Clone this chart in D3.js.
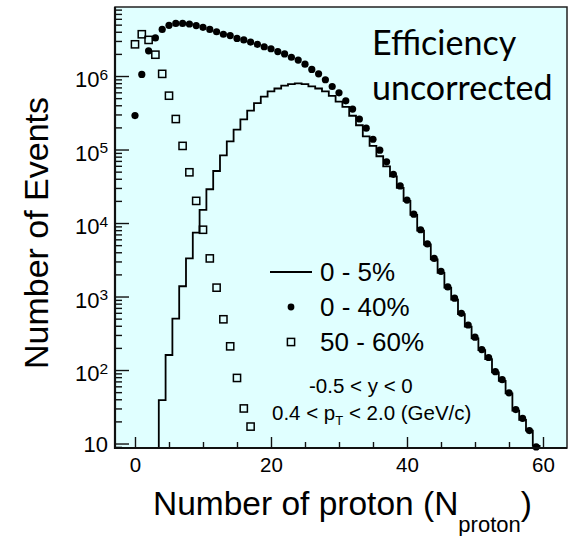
<!DOCTYPE html>
<html>
<head>
<meta charset="utf-8">
<script src="https://cdn.jsdelivr.net/npm/d3@7"></script>
<style>
  body { margin: 0; background: #fff; }
  svg text { font-family: "Liberation Sans", Arial, Helvetica, sans-serif; fill: #000; }
</style>
</head>
<body>
<svg id="chart" width="570" height="536"></svg>
<script>
// 0 - 5% centrality, histogram (bins centred on integer N)
const hist05N = [4, 5, 6, 7, 8, 9, 10, 11, 12, 13, 14, 15, 16, 17, 18, 19, 20, 21, 22, 23, 24, 25, 26, 27, 28, 29, 30, 31,
    32, 33, 34, 35, 36, 37, 38, 39, 40, 41, 42, 43, 44, 45, 46, 47, 48, 49, 50, 51, 52, 53, 54, 55, 56, 57, 58, 59];
const hist05Counts = [39, 160, 500, 1380, 3300, 7400, 15100, 28800, 51000, 83000, 129000, 186000, 257000, 339000,
    427000, 525000, 617000, 676000, 741000, 776000, 794000, 776000, 724000, 676000, 617000, 537000, 447000, 380000,
    288000, 214000, 151000, 112000, 81000, 59000, 43000, 30000, 20000, 12900, 7900, 5100, 3200, 2100, 1320, 910,
    575, 390, 270, 186, 141, 93, 71, 48, 28, 21, 15, 9.3];

// 0 - 40% centrality, filled circles
const dots040N = [0, 1, 2, 3, 4, 5, 6, 7, 8, 9, 10, 11, 12, 13, 14, 15, 16, 17, 18, 19, 20, 21, 22, 23, 24, 25, 26, 27, 28, 29,
    30, 31, 32, 33, 34, 35, 36, 37, 38, 39, 40, 41, 42, 43, 44, 45, 46, 47, 48, 49, 50, 51, 52, 53, 54, 55, 56, 57, 58, 59];
const dots040Counts = [290000, 1050000, 2200000, 3300000, 4300000, 4900000, 5200000, 5200000, 5100000, 4850000,
    4600000, 4300000, 4000000, 3700000, 3550000, 3250000, 3100000, 2900000, 2700000, 2500000, 2350000, 2150000,
    2000000, 1800000, 1650000, 1450000, 1230000, 1070000, 890000, 720000, 590000, 460000, 355000, 260000, 195000,
    138000, 98000, 68000, 46000, 32000, 20500, 13200, 8100, 5200, 3300, 2200, 1350, 950, 590, 410, 280, 190, 148,
    95, 74, 49, 29, 22, 15, 9];

// 50 - 60% centrality, open squares
const sq5060N = [0, 1, 2, 3, 4, 5, 6, 7, 8, 9, 10, 11, 12, 13, 14, 15, 16, 17];
const sq5060Counts = [2700000, 3700000, 3100000, 1950000, 1070000, 540000, 260000, 112000, 49000, 20000, 8100,
    3300, 1320, 490, 210, 78, 30, 17];

const xTickValues = [0, 20, 40, 60];
const yTickExponents = [1, 2, 3, 4, 5, 6];
const legendLabels = ["0 - 5%", "0 - 40%", "50 - 60%"];

const margin = { top: 7, right: 3, bottom: 88, left: 115 },
      width = 570 - margin.left - margin.right,
      height = 536 - margin.top - margin.bottom;

const svg = d3.select("#chart");
const g = svg.append("g")
    .attr("transform", `translate(${margin.left},${margin.top})`);

const x = d3.scaleLinear().domain([-2.94, 63.53]).range([0, width]);
const y = d3.scaleLog().domain([8.69, 8.69e6]).range([height, 0]);

// frame background
g.append("rect")
    .attr("width", width)
    .attr("height", height)
    .attr("fill", "#e0ffff");

g.append("clipPath").attr("id", "frameClip")
    .append("rect").attr("width", width).attr("height", height);

// y ticks (major + log minor), inside the frame
const yMinor = [];
yTickExponents.concat([0]).forEach(e => {
    [2, 3, 4, 5, 6, 7, 8, 9].forEach(m => {
        const v = m * Math.pow(10, e);
        if (v > y.domain()[0] && v < y.domain()[1]) yMinor.push(v);
    });
});

g.append("g").attr("class", "y minor")
    .call(d3.axisLeft(y).tickValues(yMinor).tickSize(-7).tickFormat(""));
g.append("g").attr("class", "y major")
    .call(d3.axisLeft(y).tickValues(yTickExponents.map(e => Math.pow(10, e))).tickSize(-14).tickFormat(""));

// y labels with superscript exponents
yTickExponents.forEach(e => {
    const t = g.append("text")
        .attr("x", -7)
        .attr("text-anchor", "end")
        .style("font-size", "22px");
    if (e === 1) {
        t.attr("y", y(10) + 8).text("10");
    } else {
        t.attr("y", y(Math.pow(10, e)) + 11);
        t.append("tspan").text("10");
        t.append("tspan").attr("dy", -7.5).style("font-size", "15.5px").text(e);
    }
});

// x ticks
g.append("g").attr("class", "x minor")
    .attr("transform", `translate(0,${height})`)
    .call(d3.axisBottom(x).tickValues([5, 10, 15, 25, 30, 35, 45, 50, 55]).tickSize(-6).tickFormat(""));
const xAxis = g.append("g").attr("class", "x major")
    .attr("transform", `translate(0,${height})`)
    .call(d3.axisBottom(x).tickValues(xTickValues).tickSize(-11).tickPadding(9));
xAxis.selectAll("text").style("font-size", "20.5px").attr("fill", "#000");

g.selectAll(".domain").remove();
g.selectAll(".tick line").attr("stroke", "#111").attr("stroke-width", 1.4);

// 0 - 5% histogram as a step line
const histPts = [{ x: hist05N[0] - 0.5, v: y.domain()[0] }];
hist05N.forEach((n, i) => {
    histPts.push({ x: n - 0.5, v: hist05Counts[i] });
    histPts.push({ x: n + 0.5, v: hist05Counts[i] });
});
histPts.push({ x: hist05N[hist05N.length - 1] + 0.5, v: y.domain()[0] });

const line = d3.line()
    .x(d => x(d.x))
    .y(d => y(d.v));

g.append("path")
    .datum(histPts)
    .attr("clip-path", "url(#frameClip)")
    .attr("d", line)
    .attr("fill", "none")
    .attr("stroke", "#000")
    .attr("stroke-width", 1.8);

// 50 - 60% open squares
g.selectAll(".sq")
    .data(sq5060N)
    .enter().append("rect")
    .attr("class", "sq")
    .attr("x", (d, i) => x(d) - 3.6)
    .attr("y", (d, i) => y(sq5060Counts[i]) - 3.6)
    .attr("width", 7.2)
    .attr("height", 7.2)
    .attr("fill", "none")
    .attr("stroke", "#000")
    .attr("stroke-width", 1.5);

// 0 - 40% filled circles
g.selectAll(".dot")
    .data(dots040N)
    .enter().append("circle")
    .attr("class", "dot")
    .attr("cx", d => x(d))
    .attr("cy", (d, i) => y(dots040Counts[i]))
    .attr("r", 3.6)
    .attr("fill", "#000");

// frame border
g.append("rect")
    .attr("width", width)
    .attr("height", height)
    .attr("fill", "none")
    .attr("stroke", "#222")
    .attr("stroke-width", 1.5);
g.append("path")
    .attr("d", `M0,0V${height}H${width}`)
    .attr("fill", "none")
    .attr("stroke", "#111")
    .attr("stroke-width", 2.2);

// legend
const legend = svg.append("g").attr("class", "legend");
const legY = [272, 307, 342];
legend.append("line")
    .attr("x1", 270).attr("x2", 312)
    .attr("y1", legY[0]).attr("y2", legY[0])
    .attr("stroke", "#000").attr("stroke-width", 1.8);
legend.append("circle")
    .attr("cx", 291).attr("cy", legY[1]).attr("r", 3.4).attr("fill", "#000");
legend.append("rect")
    .attr("x", 287.4).attr("y", legY[2] - 3.6)
    .attr("width", 7.2).attr("height", 7.2)
    .attr("fill", "none").attr("stroke", "#000").attr("stroke-width", 1.5);
legend.selectAll("text")
    .data(legendLabels)
    .enter().append("text")
    .attr("x", 320)
    .attr("y", (d, i) => legY[i] + 8.5)
    .style("font-size", "26px")
    .text(d => d);

// kinematic cuts
svg.append("text")
    .attr("x", 309).attr("y", 393)
    .style("font-size", "20.5px")
    .text("-0.5 < y < 0");
const pt = svg.append("text")
    .attr("x", 272).attr("y", 420)
    .style("font-size", "20.5px");
pt.append("tspan").text("0.4 < p");
pt.append("tspan").attr("dy", 5).style("font-size", "13px").text("T");
pt.append("tspan").attr("dy", -5).text(" < 2.0 (GeV/c)");

// efficiency note
svg.append("text")
    .attr("x", 372).attr("y", 55)
    .style("font-family", "Lato, 'Open Sans', sans-serif")
    .style("font-size", "34px")
    .text("Efficiency");
svg.append("text")
    .attr("x", 372).attr("y", 100)
    .style("font-family", "Lato, 'Open Sans', sans-serif")
    .style("font-size", "34px")
    .text("uncorrected");

// axis titles
svg.append("text")
    .attr("transform", "translate(48,233) rotate(-90)")
    .attr("text-anchor", "middle")
    .style("font-size", "34px")
    .text("Number of Events");

const xt = svg.append("text")
    .attr("x", 153).attr("y", 515)
    .style("font-size", "33.5px");
xt.append("tspan").text("Number of proton (N");
xt.append("tspan").attr("dy", 17).style("font-size", "22px").text("proton");
xt.append("tspan").attr("dy", -17).text(")");
</script>
</body>
</html>
